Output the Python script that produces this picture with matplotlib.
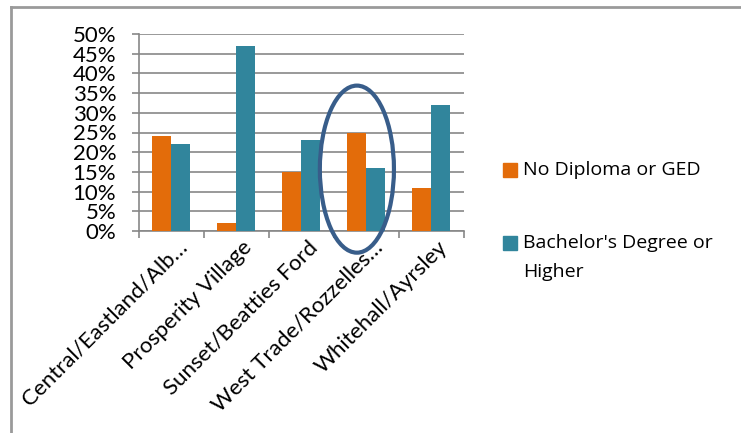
import matplotlib.pyplot as plt
from matplotlib.patches import Ellipse, Rectangle
from matplotlib.lines import Line2D
from matplotlib.ticker import MultipleLocator, PercentFormatter
from matplotlib.transforms import ScaledTranslation
import numpy as np

plt.rcParams['font.family'] = ['Lato', 'DejaVu Sans']

categories = ['Central/Eastland/Alb…', 'Prosperity Village', 'Sunset/Beatties Ford',
              'West Trade/Rozzelles…', 'Whitehall/Ayrsley']
no_diploma = [24, 2, 15, 25, 11]
bachelors = [22, 47, 23, 16, 32]
series_names = ['No Diploma or GED', "Bachelor's Degree or\nHigher"]

orange = '#E36C0A'
teal = '#31859C'
grid_col = '#878787'
W, H = 741, 433

fig = plt.figure(figsize=(W / 100, H / 100), dpi=100)
ax = fig.add_axes([138.5 / W, 1 - 231 / H, 325 / W, 197 / H])

x = np.arange(len(categories))
w = 0.285
ax.bar(x - w / 2, no_diploma, w, color=orange, zorder=3)
ax.bar(x + w / 2, bachelors, w, color=teal, zorder=3)

ax.set_xlim(-0.5, len(categories) - 0.5)
ax.set_ylim(0, 50)
ax.yaxis.set_major_locator(MultipleLocator(5))
ax.yaxis.set_major_formatter(PercentFormatter(decimals=0))
ax.grid(axis='y', color=grid_col, linewidth=1.2, zorder=0)
ax.set_axisbelow(True)

for s in ['top', 'right']:
    ax.spines[s].set_visible(False)
for s in ['left', 'bottom']:
    ax.spines[s].set_color(grid_col)
    ax.spines[s].set_linewidth(1.2)

ax.set_xticks(np.arange(len(categories) + 1) - 0.5, minor=False)
ax.set_xticklabels([])
ax.set_xticks(x, minor=True)
ax.set_xticklabels(categories, minor=True, rotation=45, ha='right',
                   rotation_mode='anchor', fontsize=16)
ax.tick_params(axis='x', which='major', length=5, color=grid_col, width=1.2)
ax.tick_params(axis='x', which='minor', length=0, pad=8)
ax.tick_params(axis='y', length=5, color=grid_col, width=1.2, labelsize=16, pad=11)

# nudge the rotated labels a little up and right
shift = ScaledTranslation(6 / 100, 5 / 100, fig.dpi_scale_trans)
for lab in ax.get_xticklabels(minor=True):
    lab.set_transform(lab.get_transform() + shift)

# highlight ellipse around West Trade
ax.add_patch(Ellipse((2.86, 15.7), 1.14, 42.4, fill=False,
                     edgecolor='#385D8A', linewidth=3, zorder=5, clip_on=False))

# legend, drawn by hand to match the layout
leg_y = [170, 243]
for name, col, yy in zip(series_names, [orange, teal], leg_y):
    fig.add_artist(Rectangle((503 / W, 1 - (yy + 7) / H), 14 / W, 14 / H,
                             color=col, transform=fig.transFigure))
    for k, line in enumerate(name.split('\n')):
        fig.text(523 / W, 1 - (yy + 29 * k) / H, line, va='center', ha='left',
                 fontsize=14, family=['Open Sans', 'DejaVu Sans'])

# chart border
fig.add_artist(Line2D([11 / W, 11 / W], [0, 1 - 7 / H], color='#9A9A9A', lw=2))
fig.add_artist(Line2D([11 / W, 1], [1 - 7 / H, 1 - 7 / H], color='#9A9A9A', lw=2))

fig.savefig('out.png', dpi=100)
